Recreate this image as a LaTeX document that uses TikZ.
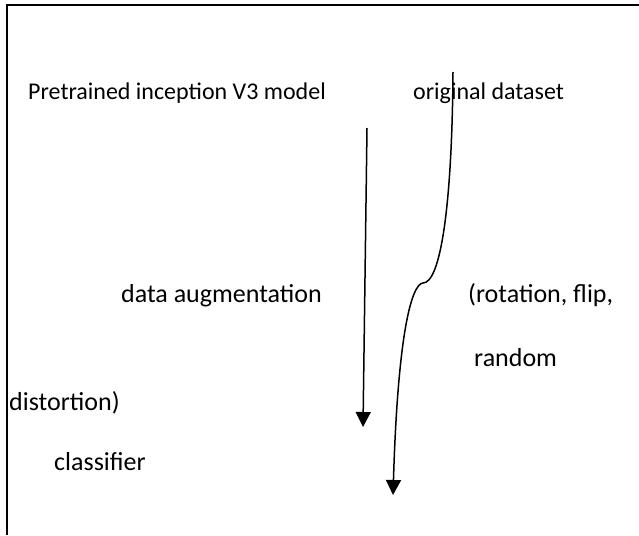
\documentclass[tikz,border=0pt]{standalone}
\usepackage{fontspec}
\setmainfont{Carlito}
\usetikzlibrary{arrows.meta}
\begin{document}
\begin{tikzpicture}[x=1pt,y=-1pt,
 lbl/.style={anchor=base west,inner sep=0pt,font=\fontsize{26}{30}\selectfont},
 toplbl/.style={lbl,font=\fontsize{24}{28}\selectfont},
 arr/.style={line width=1.5pt,-{Triangle[length=15pt,width=15pt]}}]
 \useasboundingbox (0,0) rectangle (639,535);
 \draw[line width=2.5pt](7,535)--(7,5)--(640,5);
 \node[toplbl] (pre) at (28,99) {Pretrained inception V3 model};
 \node[toplbl] (orig) at (413,99) {original dataset};
 \node[lbl] (aug) at (121,302) {data augmentation};
 \node[lbl] (rot) at (468,302) {(rotation, flip,};
 \node[lbl] (rnd) at (474,366) {random};
 \node[lbl] (dist) at (9,410) {distortion)};
 \node[lbl] (cls) at (54,470) {classifier};
 \coordinate (a1s) at (367,128);
 \coordinate (a1e) at (363,427);
 \coordinate (a2s) at (453,72);
 \coordinate (a2k) at (423,283);
 \coordinate (a2e) at (393,495);
 \draw[arr](a1s)--(a1e);
 \draw[arr](a2s) .. controls (452,210) and (440,283) .. (a2k)
  .. controls (412,284) and (398,330) .. (a2e);
\end{tikzpicture}
\end{document}
